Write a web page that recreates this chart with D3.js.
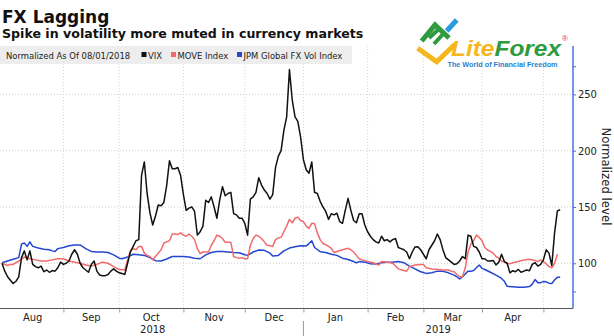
<!DOCTYPE html>
<html><head><meta charset="utf-8">
<script src="https://cdn.jsdelivr.net/npm/d3@7"></script>
<style>body{margin:0;background:#fff}svg{display:block}</style>
</head><body><svg id="c" width="614" height="336"></svg>
<script>
// ---- data (normalized to 100 on 08/01/2018), x = weekday number since 2018-08-01 ----
const vixVals=[100,93,88,85,82,84,88,105,111,103,111,99,97,96,97.5,92.5,94,92,93.5,93,
96,101,99,100,102,108,112,108,100,96,94,92,99,102,93,89.6,89,89,90,93,
95,93,91.5,91,90,100,110,115,120,121,178,190,162,145,134,142,151.8,151,154,169,
191,184,184,185,178,161,147,149,150,146,125,128,133,156,154,159,150,140,156,168,
160,162,163,144,143,140,140,135.5,125,157,159,163,176,169.5,165,162,157,161,185,195,
200,218,230,272,245,230,226,212,192,183,180,190,163,162,155,150,146,139,144,143,
144.4,137,135.5,147,157.7,147,138,136,144,144,134,128,124,121,119,118,124,120,121,119,
121,122,114,113,112,110,104,110,114.5,114.7,112,108,104,112,116,120,126,121,112,105,
103,101,99,99.5,102,106,104,125,124,115,114,110,104,104,102,102,102.5,98.5,101,108,
101.5,100,91.5,93.4,92.5,94.5,92,93,94,93.4,99,100.5,97.5,99,103,112,109,98,127,146.5,147.5];
const moveDays=[0,2,3,4,6,8,10,12,14,16,18,20,22,24,26,28,30,32,34,36,38,40,42,44,45,46,47,48,49,50,
51,52,53,54,55,56,57,58,59,60,61,62,63,64,65,66,67,68,69,70,71,72,73,74,75,76,77,78,79,80,
82,83,84,85,86,87,88,89,90,91,92,93,94,95,96,97,98,99,100,101,102,103,104,105,106,107,108,109,110,111,
112,113,114,115,116,117,118,119,120,122,124,125,126,127,128,129,131,133,135,136,138,140,141,142,144,145,146,148,150,151,
152,154,156,158,160,161,162,163,164,165,166,167,168,169,170,171,172,173,174,175,176,177,178,179,180,181,182,183,185,187,
189,191,192,193,194,195,196,197,198,199];
const moveVals=[100,98,99,99,102,105.5,104,103,102,102,103,104,104,102,101,100,98.5,97.5,99,101,100,97,94.5,94,103,111,113,112,115,115,
109,107,106,103,106,109,112,118,119,120,126,126,125.5,127,125,124,126,124,121,113,108.5,110,110,110,116,120,125,124,122,118.6,
118.6,106,105,104.4,105,104,104,116,122,125,124,122,119,116,115.5,115,121,122.5,123,128,133,139,136,140,141,138,137,133,131,135.5,
135,127,121,117.5,116.5,115,113.3,109.5,110.5,112,113.3,112,110,107,104,103,101.5,100.5,98.5,101.5,101,100,97.5,95,93.5,93,97,98.5,98.8,99,
96,95,94.5,94,94,93,92.5,90,88,88,96,110,117,120,125,123,120,114,111.8,110.5,109,106,104.5,102,101,100,99.5,100.5,101.5,103,
103.6,102.5,101.5,103,101.5,99.5,97,96,100,108];
const jpmDays=[0,2,4,6,7,8,9,10,11,13,15,17,18,19,20,22,24,26,28,30,32,34,36,38,40,42,43,45,47,49,
51,53,55,57,59,61,63,65,67,69,71,73,75,77,79,81,83,85,87,88,90,92,94,96,97,99,101,103,105,107,
109,110,111,112,114,116,118,120,122,124,126,127,128,130,132,134,136,138,140,142,144,146,148,150,152,154,156,158,160,162,
163,164,165,166,167,168,169,170,171,172,173,175,177,179,180,181,183,185,187,189,190,191,192,193,194,195,196,197,198,199,200];
const jpmVals=[100.5,102,103.5,105,117,118,115,119,115,113.5,112.5,112,111,110.5,113,114,115.5,116.3,116.3,113,110.5,110,110,109.5,107.5,104.5,104,105.5,108,107.5,
107,105,102.3,102,103.8,106,106,106,105.5,104.5,104,107.5,109.5,110.5,110.5,110,109.5,109.4,107.5,107,110,111.8,111.5,109,106.5,107,111,113.5,114.7,115.5,
115.4,117.5,120,114,110.3,109.5,108,107,104.5,103.3,101.5,100.5,101.5,101,99.6,99.3,100.5,101,101,101.5,100.5,97.5,95,92.5,91,91.5,93,92.8,91.5,89.5,
88,86,88,90.5,93,93,93.5,96,98.5,95.5,94.5,92,89.5,86.5,84,79.5,79.2,78.7,78.7,79.3,81.5,85.5,82.8,82.8,83.7,83.5,82.3,82,85.2,87.5,87.6];
const yTicks=[100,150,200,250];
const yMinorTicks=[75,275];
const seriesNames=["VIX","MOVE Index","JPM Global FX Vol Index"];
const seriesColors=["#111111","#f26a6a","#2447d2"];

// ---- layout ----
const svg=d3.select("#c");
const FONT="'DejaVu Sans Condensed','DejaVu Sans',sans-serif";
const weekdays=d3.timeDay.range(new Date(2018,7,1),new Date(2019,4,16)).filter(d=>d.getDay()!==0&&d.getDay()!==6);
const x=d3.scaleLinear().domain([0,204.6]).range([2,573]);
const y=d3.scaleLinear().domain([60,292]).range([308.3,47.1]);
const plotL=0, plotR=573, plotT=46, plotB=308.5;

const monthEnds=[];
weekdays.forEach((d,i)=>{const n=weekdays[i+1]; if(n&&n.getMonth()!==d.getMonth()) monthEnds.push(i);});

// gridlines
svg.append("g").selectAll("line").data(yTicks).join("line")
  .attr("x1",plotL).attr("x2",plotR).attr("y1",d=>y(d)).attr("y2",d=>y(d))
  .attr("stroke","#cfcfcf").attr("stroke-dasharray","1,2");
svg.append("g").selectAll("line").data(monthEnds).join("line")
  .attr("x1",d=>x(d)).attr("x2",d=>x(d)).attr("y1",plotT).attr("y2",plotB)
  .attr("stroke","#d6d6d6").attr("stroke-dasharray","1,2");

// legend band
svg.append("rect").attr("x",0).attr("y",46).attr("width",352).attr("height",18).attr("fill","#ececec").attr("opacity",0.92);
const lg=svg.append("g").attr("font-family",FONT).attr("font-size",9.4).attr("fill","#222");
lg.append("text").attr("x",6).attr("y",58.5).text("Normalized As Of 08/01/2018");
const legX=[141.5,171,237];
seriesNames.forEach((n,i)=>{
  lg.append("rect").attr("x",legX[i]).attr("y",52).attr("width",5).attr("height",5).attr("fill",seriesColors[i]);
  lg.append("text").attr("x",legX[i]+6.5).attr("y",58.5).text(n);
});

// lines
const line=d3.line().x(d=>x(d[0])).y(d=>y(d[1]));
const vixData=vixVals.map((v,i)=>[i,v]);
const moveData=moveDays.map((d,i)=>[d,moveVals[i]]);
const jpmData=jpmDays.map((d,i)=>[d,jpmVals[i]]);
[[jpmData,2],[moveData,1],[vixData,0]].forEach(([data,k])=>{
  svg.append("path").datum(data).attr("d",line).attr("fill","none")
    .attr("stroke",seriesColors[k]).attr("stroke-width",1.5).attr("stroke-linejoin","round");
});

// x axis
const xa=svg.append("g").attr("transform",`translate(0,${plotB})`)
  .call(d3.axisBottom(x).tickValues(monthEnds).tickSize(4).tickSizeOuter(0).tickFormat(""));
xa.select(".domain").attr("d",`M${plotL},0H${plotR}`).attr("stroke","#555");
xa.selectAll(".tick line").attr("stroke","#999");
const bounds=[0,...monthEnds];
const monthLbl=svg.append("g").attr("font-family",FONT).attr("font-size",11).attr("fill","#222").attr("text-anchor","middle");
for(let k=0;k<bounds.length-1;k++){
  const a=k===0?x(0):x(bounds[k]), b=x(bounds[k+1]);
  monthLbl.append("text").attr("x",(a+b)/2).attr("y",320.5).text(d3.timeFormat("%b")(weekdays[bounds[k+1]]));
}
const yearSplit=monthEnds[4];
monthLbl.append("text").attr("x",(x(0)+x(yearSplit))/2).attr("y",332.5).text("2018");
monthLbl.append("text").attr("x",(x(yearSplit)+plotR)/2).attr("y",332.5).text("2019");
svg.append("line").attr("x1",x(yearSplit)).attr("x2",x(yearSplit)).attr("y1",321).attr("y2",336).attr("stroke","#999");

// y axis (right)
const ya=svg.append("g").attr("transform",`translate(${plotR},0)`)
  .call(d3.axisRight(y).tickValues([...yMinorTicks,...yTicks]).tickSize(3).tickSizeOuter(0).tickFormat(d=>yTicks.includes(d)?d:""));
ya.select(".domain").attr("d",`M0,${plotT}V${plotB}`).attr("stroke","#4d6fe0").attr("stroke-width",1.5);
ya.selectAll(".tick line").attr("stroke","#4d6fe0");
ya.selectAll(".tick text").attr("font-family",FONT).attr("font-size",11).attr("fill","#222").attr("x",5);
svg.append("text").attr("transform","translate(602,176.5) rotate(90)").attr("text-anchor","middle")
  .attr("font-family",FONT).attr("font-size",13).attr("fill","#222").text("Normalized level");

// titles
svg.append("text").attr("x",2).attr("y",23).attr("font-family","'DejaVu Sans',sans-serif").attr("font-weight","bold").attr("font-size",17).attr("fill","#111").text("FX Lagging");
svg.append("text").attr("x",2).attr("y",37.5).attr("font-family","'DejaVu Sans',sans-serif").attr("font-weight","bold").attr("font-size",12.6).attr("fill","#111").text("Spike in volatility more muted in currency markets");

// logo
const lo=svg.append("g");
lo.append("path").attr("d","M417.7,48.3L436.7,61.7L455,44.3").attr("fill","none").attr("stroke","#f4b81c").attr("stroke-width",5).attr("stroke-linejoin","miter");
lo.append("path").attr("d","M421.7,41L435,25L449,38").attr("fill","none").attr("stroke","#2f9b3e").attr("stroke-width",5);
lo.append("path").attr("d","M429,38L440,28M434,44L444,33").attr("fill","none").attr("stroke","#2f9b3e").attr("stroke-width",4);
lo.append("path").attr("d","M446.7,31L456.7,20").attr("fill","none").attr("stroke","#2a9be0").attr("stroke-width",5);
const lt=lo.append("text").attr("x",451).attr("y",56).attr("font-family","'Liberation Sans',Arial,sans-serif").attr("font-weight","bold").attr("font-style","italic").attr("font-size",22.5).attr("textLength",110).attr("lengthAdjust","spacingAndGlyphs");
lt.append("tspan").attr("fill","#f4b81c").text("Lite");
lt.append("tspan").attr("fill","#2f9b3e").text("Forex");
lo.append("text").attr("x",562).attr("y",41).attr("font-family","'Liberation Sans',Arial,sans-serif").attr("font-size",8).attr("fill","#e53935").text("®");
lo.append("text").attr("x",447.5).attr("y",67).attr("font-family","'Liberation Sans',Arial,sans-serif").attr("font-weight","bold").attr("font-size",7.5).attr("fill","#1f7fd0").attr("textLength",110).attr("lengthAdjust","spacingAndGlyphs").text("The World of Financial Freedom");
</script></body></html>
